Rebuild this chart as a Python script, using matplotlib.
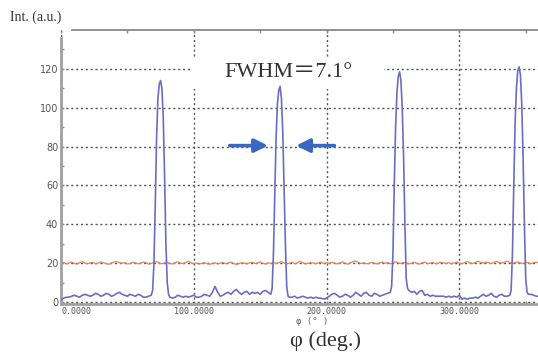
import numpy as np
import matplotlib
matplotlib.use("Agg")
import matplotlib.pyplot as plt
from matplotlib.patches import Rectangle

# 数据
phi_blue = [0, 2, 4, 6, 8, 10, 12, 14, 16, 18, 20, 22, 24, 26, 28, 30, 32, 34, 36, 38,
            40, 42, 44, 46, 48, 50, 52, 54, 56, 58, 60, 62, 64, 66, 68, 69,
            70, 71, 72, 73, 74, 75, 76, 77, 78, 79, 80, 81, 82, 84, 86, 88,
            90, 92, 94, 96, 98, 100, 102, 104, 106, 108, 110, 112, 114, 116, 118,
            120, 122, 124, 126, 128, 130, 132, 134, 136, 138, 140, 142, 144, 146, 148,
            150, 152, 154, 156, 158, 159,
            160, 161, 162, 163, 164, 165, 166, 167, 168, 169, 170, 171, 172, 174, 176, 178,
            180, 182, 184, 186, 188, 190, 192, 194, 196, 198, 200, 202, 204, 206, 208,
            210, 212, 214, 216, 218, 220, 222, 224, 226, 228, 230, 232, 234, 236, 238,
            240, 242, 244, 246, 248, 249,
            250, 251, 252, 253, 254, 255, 256, 257, 258, 259, 260, 261, 262, 264, 266, 268,
            270, 272, 274, 276, 278, 280, 282, 284, 286, 288, 290, 292, 294, 296, 298,
            300, 302, 304, 306, 308, 310, 312, 314, 316, 318, 320, 322, 324, 326, 328,
            330, 332, 334, 336, 338, 339,
            340, 341, 342, 343, 344, 345, 346, 347, 348, 349, 350, 351, 352, 354, 356, 358, 360]
int_blue = [1.0, 2.0, 2.5, 2.5, 3.0, 3.5, 3.0, 2.5, 3.5, 4.0, 3.5, 3.0, 3.5, 4.5, 4.0, 3.0, 3.5, 4.5, 4.0, 3.0,
            3.5, 4.5, 5.0, 4.0, 3.5, 3.0, 4.0, 3.5, 3.0, 4.0, 3.5, 2.5, 2.5, 3.0, 3.5, 6.0,
            20, 50, 85, 105, 112, 114, 110, 95, 65, 30, 10, 4.0, 2.5, 2.0, 2.5, 3.5,
            3.0, 2.5, 3.0, 2.5, 3.0, 3.5, 2.5, 2.5, 3.0, 4.0, 3.5, 3.0, 5.0, 8.0, 5.0,
            3.0, 3.5, 4.5, 5.0, 4.0, 5.5, 6.5, 5.0, 4.0, 5.0, 5.5, 4.0, 5.0, 4.5, 5.0,
            4.0, 5.5, 6.0, 5.0, 4.0, 7.0,
            25, 55, 85, 102, 109, 111, 105, 88, 60, 30, 8.0, 3.0, 2.5, 2.5, 3.0, 2.0,
            2.5, 3.0, 2.5, 2.0, 2.5, 2.0, 2.5, 2.0, 2.0, 1.5, 2.0, 3.0, 4.0, 4.5, 3.5,
            2.5, 3.0, 4.0, 3.5, 2.5, 3.5, 5.0, 4.0, 3.0, 4.5, 5.0, 3.5, 3.0, 4.5, 4.0,
            3.0, 3.5, 4.0, 4.5, 5.0, 8.0,
            25, 60, 90, 108, 116, 118.5, 114, 100, 75, 40, 12, 7.0, 6.0, 5.0, 5.5, 4.0,
            5.5, 6.0, 3.5, 4.0, 3.0, 3.5, 3.0, 3.0, 3.0, 3.0, 2.5, 3.0, 2.5, 3.0, 2.5,
            3.5, 1.5, 2.0, 1.5, 2.0, 2.0, 2.5, 2.0, 3.0, 4.0, 3.0, 3.5, 4.5, 3.0, 2.5,
            3.5, 4.0, 3.0, 3.0, 3.5, 6.0,
            25, 60, 92, 110, 119, 121, 117, 102, 75, 40, 12, 5.0, 4.0, 4.0, 3.5, 3.0, 3.0]

phi_orange = np.arange(0, 361, 2)
int_orange = [19.8, 20.4, 19.6, 20.1, 20.6, 19.9, 19.5, 20.3, 20.8, 20.0, 19.7, 20.2, 20.5, 19.6, 20.0, 20.7, 20.2, 19.8, 19.4, 20.1,
              20.6, 20.9, 20.3, 19.9, 20.4, 19.6, 19.8, 20.5, 20.2, 19.7, 20.0, 20.6, 20.3, 19.5, 19.9, 20.4, 20.8, 20.1, 19.7, 20.2,
              20.5, 19.9, 19.6, 20.3, 20.7, 20.0, 19.8, 20.4, 21.0, 20.2, 19.7, 20.1, 19.5, 19.9, 20.3, 19.8, 19.4, 19.9, 20.2, 19.6,
              20.0, 20.4, 19.7, 20.1, 20.6, 19.9, 19.3, 19.8, 20.3, 20.0, 19.6, 20.2, 20.5, 19.8, 20.1, 20.7, 20.0, 19.5, 20.2, 19.8,
              20.4, 19.9, 20.3, 20.8, 20.1, 19.6, 20.0, 20.5, 19.7, 20.2, 21.0, 20.3, 19.6, 19.9, 20.4, 20.1, 19.7, 20.2, 20.6, 19.8,
              20.3, 19.9, 20.5, 20.1, 19.6, 20.2, 20.7, 20.0, 19.5, 20.3, 20.9, 21.1, 20.4, 19.8, 20.2, 19.7, 19.9, 20.4, 20.0, 19.6,
              20.2, 20.6, 19.9, 20.3, 19.7, 20.1, 20.8, 20.2, 19.8, 20.4, 20.1, 19.6, 20.0, 20.5, 19.9, 19.5, 20.2, 20.6, 19.8, 20.0,
              20.4, 19.7, 19.9, 20.5, 20.2, 19.8, 20.3, 19.6, 20.1, 20.7, 20.0, 19.7, 20.3, 20.9, 20.2, 19.8, 20.4, 21.0, 20.5, 20.0,
              20.6, 20.2, 19.8, 20.4, 20.9, 20.3, 20.0, 20.6, 21.1, 20.4, 19.9, 20.3, 20.7, 20.1, 19.8, 20.5, 20.2, 19.7, 20.3, 20.6,
              20.1]

x_ticks = [0, 100, 200, 300]
x_ticklabels = ["0.0000", "100.0000", "200.0000", "300.0000"]
y_ticks = [0, 20, 40, 60, 80, 100, 120]

W, H = 538, 354
fig = plt.figure(figsize=(W / 100, H / 100), dpi=100)
ax = fig.add_axes([61 / W, 1 - 304 / H, 478 / W, 274 / H])

# 网格
ax.set_axisbelow(True)
ax.grid(True, color="#555555", linestyle=(0, (1.5, 2)), linewidth=1.0)

# 文字背后的白框
ax.add_patch(Rectangle((98.5, 109.5), 145, 15.5, facecolor="white", edgecolor="none", zorder=1.5))

ax.plot(phi_orange, int_orange, color="#e0885c", linewidth=0.9, zorder=2)
ax.plot(phi_blue, int_blue, color="#6a6ec2", linewidth=1.2, zorder=3)

ax.set_xlim(0, 360)
ax.set_ylim(-1, 140)
ax.set_xticks(x_ticks)
ax.set_xticklabels(x_ticklabels, family="DejaVu Sans Mono", fontsize=6, color="#555555")
ax.get_xticklabels()[0].set_horizontalalignment("left")
ax.set_xticks([50, 150, 250, 350], minor=True)
ax.set_yticks(y_ticks)
ax.set_yticklabels([str(v) for v in y_ticks], family=["Liberation Sans Narrow", "DejaVu Sans"],
                   fontsize=7, color="#555555")
ax.set_yticks([10, 30, 50, 70, 90, 110, 130], minor=True)
ax.tick_params(which="both", direction="in", length=2, width=1, color="#888888", pad=2)
ax.tick_params(axis="x", which="both", top=True)

for side in ["left", "bottom"]:
    ax.spines[side].set_color("#a0a0a0")
    ax.spines[side].set_linewidth(2)
ax.spines["top"].set_color("#888888")
ax.spines["top"].set_linewidth(1.3)
ax.spines["top"].set_bounds(8, 360)
ax.spines["left"].set_bounds(-1, 136)
ax.spines["right"].set_visible(False)

# 标注
ax.text(171, 118, "FWHM＝7.1°", family=["Liberation Serif", "Noto Sans CJK JP"],
        fontsize=16, color="#333333", ha="center", va="center", zorder=4)
arrow_kw = dict(arrowstyle="-|>", color="#3a68c0", lw=2.6, mutation_scale=20)
ax.annotate("", xy=(158, 80.5), xytext=(125, 80.5), arrowprops=arrow_kw)
ax.annotate("", xy=(175, 80.5), xytext=(208, 80.5), arrowprops=arrow_kw)

fig.text(10 / W, 1 - 17 / H, "Int. (a.u.)", family="Liberation Serif", fontsize=10,
         color="#333333", ha="left", va="center")
fig.text(312 / W, 1 - 322 / H, "φ (° )", family="DejaVu Sans Mono", fontsize=6.5,
         color="#666666", ha="center", va="center")
fig.text(325 / W, 1 - 341 / H, "φ (deg.)", family="Liberation Serif", fontsize=16,
         color="#333333", ha="center", va="center")

fig.savefig("out.png", dpi=100)
